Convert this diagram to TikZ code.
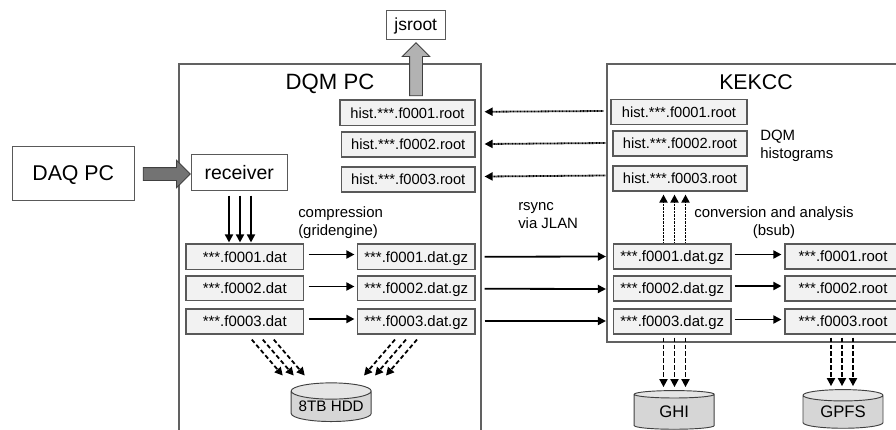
\documentclass[tikz,border=0pt]{standalone}
\usepackage{fontspec}
\setmainfont{Liberation Sans}
\usetikzlibrary{arrows.meta,shapes.geometric,shapes.arrows}
\newcommand{\placebox}[7]{% style, name, x1, y1, x2, y2, text
  \pgfmathsetmacro{\cxv}{(#3+#5)/2}\pgfmathsetmacro{\cyv}{(#4+#6)/2}
  \pgfmathsetmacro{\wv}{(#5-#3)*0.75}\pgfmathsetmacro{\hv}{(#6-#4)*0.75}
  \node[#1,minimum width=\wv pt,minimum height=\hv pt] (#2) at (\cxv,\cyv) {#7};}
\tikzset{
  frame/.style={draw=black!62,line width=.9pt,fill=white,inner sep=0pt},
  plainbox/.style={draw=black!65,line width=.75pt,fill=white,inner sep=0pt,text depth=0pt,font=\fontsize{14.6}{17}\selectfont},
  filebox/.style={draw=black!65,line width=.85pt,fill=black!5,inner sep=0pt,text depth=0pt,font=\fontsize{11.2}{13}\selectfont},
  histbox/.style={filebox,font=\fontsize{11}{13}\selectfont},
  disk/.style={cylinder,shape border rotate=90,draw=black!75,line width=.7pt,cylinder uses custom fill,
    cylinder body fill=black!16,cylinder end fill=black!10,aspect=.25,inner sep=0pt,
    minimum width=60pt,minimum height=29pt},
  note/.style={inner sep=0pt,font=\fontsize{11.2}{13.4}\selectfont,align=left},
  title/.style={inner sep=0pt,text depth=0pt},
  solidarr/.style={line width=1.35pt,-{Triangle[length=6pt,width=6pt]}},
  dotarr/.style={solidarr,dash pattern=on .7pt off .35pt},
  dasharr/.style={solidarr,dash pattern=on 3.2pt off 2pt},
  bigarr/.style={single arrow,draw=black!75,line width=.6pt,inner sep=4.5pt,single arrow head extend=5.5pt,single arrow tip angle=90},
}
\begin{document}
\begin{tikzpicture}[x=0.75pt,y=-0.75pt]
\useasboundingbox (0,0) rectangle (896,429);
\clip (0,0) rectangle (896,429);
\placebox{frame}{dqm}{179}{64}{481}{445}{}
\placebox{frame}{kek}{607}{64}{910}{342}{}
\node[title,font=\fontsize{16.6}{20}\selectfont] (dqmt) at (330,81.5) {DQM PC};
\node[title,font=\fontsize{16}{19}\selectfont] (kekt) at (756,82) {KEKCC};
\placebox{plainbox,font=\fontsize{16}{19}\selectfont}{daq}{12}{146.5}{134.5}{200}{DAQ PC}
\placebox{plainbox,font=\fontsize{13.1}{16}\selectfont}{js}{386}{10}{445.5}{39}{jsroot}
\placebox{plainbox}{rec}{191.5}{154}{287}{190}{receiver}
\placebox{histbox}{dh1}{340}{100}{475}{125.5}{hist.***.f0001.root}
\placebox{histbox}{dh2}{341.5}{132}{475}{157}{hist.***.f0002.root}
\placebox{histbox}{dh3}{341.5}{167}{475}{192}{hist.***.f0003.root}
\placebox{filebox}{dat1}{186}{244}{303.5}{269.5}{***.f0001.dat}
\placebox{filebox}{dat2}{186}{276}{303.5}{300.5}{***.f0002.dat}
\placebox{filebox}{dat3}{186}{309}{303.5}{334}{***.f0003.dat}
\placebox{filebox}{gz1}{357.5}{244}{475}{269.5}{***.f0001.dat.gz}
\placebox{filebox}{gz2}{357.5}{276}{475}{300.5}{***.f0002.dat.gz}
\placebox{filebox}{gz3}{357.5}{309}{475}{334}{***.f0003.dat.gz}
\placebox{histbox}{kh1}{611}{99.5}{747}{124.5}{hist.***.f0001.root}
\placebox{histbox}{kh2}{613}{131}{747}{156}{hist.***.f0002.root}
\placebox{histbox}{kh3}{613}{166}{747}{191}{hist.***.f0003.root}
\placebox{filebox}{kz1}{613.5}{244}{731}{269}{***.f0001.dat.gz}
\placebox{filebox}{kz2}{613.5}{276}{731}{301}{***.f0002.dat.gz}
\placebox{filebox}{kz3}{613.5}{309}{731}{334}{***.f0003.dat.gz}
\placebox{filebox}{r1}{785}{244}{901}{269}{***.f0001.root}
\placebox{filebox}{r2}{785}{276}{901}{301}{***.f0002.root}
\placebox{filebox}{r3}{785}{309}{901}{334}{***.f0003.root}
\node[disk,font=\fontsize{11.4}{13}\selectfont] (hdd) at (331.2,406.5) {8TB HDD};
\node[disk,font=\fontsize{12.5}{15}\selectfont] (ghi) at (674.2,412) {GHI};
\node[disk,font=\fontsize{12.5}{15}\selectfont] (gpfs) at (843,412) {GPFS};
\node[note,anchor=west] (comp) at (298,222.5) {compression\\(gridengine)};
\node[note,anchor=west] (rsync) at (518,215.5) {rsync\\via JLAN};
\node[note,anchor=west] (hists) at (760,146) {DQM\\histograms};
\node[note,align=center] (conv) at (774,223) {conversion and analysis\\(bsub)};
% large arrows
\node[bigarr,fill=black!55,minimum height=35.25pt] (inarr) at (163.5,174) {};
\node[bigarr,fill=black!30,shape border rotate=90,minimum height=39.75pt] (upbig) at (416,72.5) {};
% receiver to dat
\foreach \dx in {-10.25,0.75,11.75}
  \draw[solidarr] ([shift={(\dx,5)}]rec.south) -- ([shift={(\dx,-1)}]rec.south |- dat1.north);
% compression
\foreach \i/\dy in {1/-2.25,2/-1.75,3/-2.5}
  \draw[solidarr] ([shift={(4.5,\dy)}]dat\i.east) -- ([shift={(-2.5,\dy)}]gz\i.west);
% rsync to KEKCC
\foreach \i/\dy in {1/0,2/0.5,3/-0.5}
  \draw[solidarr] ([shift={(9,\dy)}]gz\i.east) -- ([shift={(-7,\dy)}]kz\i.west);
% KEKCC to root
\foreach \i/\dy in {1/-2,2/-2.5,3/-2}
  \draw[solidarr] ([shift={(3,\dy)}]kz\i.east) -- ([shift={(-3,\dy)}]r\i.west);
% hist rsync
\foreach \i/\dy in {1/-1,2/-0.5,3/-3}
  \draw[dotarr] ([shift={(-7,\dy)}]kh\i.west) -- ([shift={(9,\dy)}]dh\i.east);
% conversion up
\foreach \x in {-8.75,2.25,13.25}
  \draw[dotarr] ([shift={(\x,-1)}]kz1.north) -- ([shift={(\x,3)}]kz1.north |- kh3.south);
% to disks
\foreach \x in {-8.75,2.25,13.25}
  \draw[dasharr] ([shift={(\x,3)}]kz3.south) -- ([shift={(\x,-3)}]kz3.south |- ghi.north);
\foreach \x in {-12,-1,10}
  \draw[dasharr] ([shift={(\x,3)}]r3.south) -- ([shift={(\x,-3)}]r3.south |- gpfs.north);
% diagonal
\foreach \x in {0,11,22}{
  \coordinate (da\x) at ([shift={(7+\x,5)}]dat3.south);
  \coordinate (db\x) at ([shift={(38+\x,41)}]dat3.south);
  \coordinate (ga\x) at ([shift={(-21.25+\x,5)}]gz3.south);
  \coordinate (gb\x) at ([shift={(-52.25+\x,41)}]gz3.south);
  \draw[dasharr] (da\x) -- (db\x);
  \draw[dasharr] (ga\x) -- (gb\x);
}
\end{tikzpicture}
\end{document}
